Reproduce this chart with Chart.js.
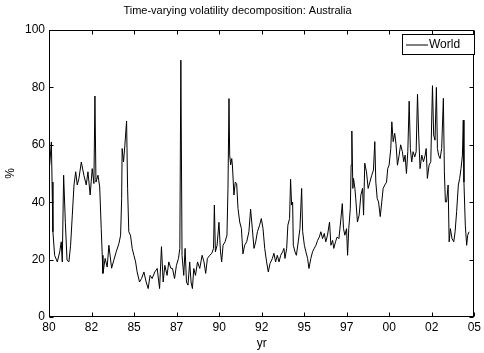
<!DOCTYPE html>
<html>
<head>
<meta charset="utf-8">
<script src="https://cdn.jsdelivr.net/npm/chart.js@4.4.0/dist/chart.umd.min.js"></script>
<style>
  html, body { margin: 0; padding: 0; background: #fff; }
</style>
</head>
<body>
<canvas id="volChart" width="484" height="353"></canvas>
<script>
// time (decimal years) and World volatility share (%)
const years = [
  1980.04, 1980.14, 1980.18, 1980.23, 1980.33, 1980.49, 1980.63, 1980.72, 1980.78, 1980.86,
  1980.96, 1981.06, 1981.17, 1981.27, 1981.37, 1981.47, 1981.57, 1981.66, 1981.76, 1981.90,
  1982.05, 1982.19, 1982.29, 1982.42, 1982.54, 1982.64, 1982.70, 1982.76, 1982.88, 1982.98,
  1983.07, 1983.13, 1983.17, 1983.30, 1983.42, 1983.52, 1983.68, 1983.81, 1983.95, 1984.11,
  1984.21, 1984.27, 1984.30, 1984.38, 1984.46, 1984.56, 1984.62, 1984.69, 1984.79, 1984.89,
  1984.99, 1985.09, 1985.18, 1985.32, 1985.44, 1985.58, 1985.71, 1985.83, 1985.94, 1986.06,
  1986.22, 1986.36, 1986.50, 1986.61, 1986.71, 1986.81, 1986.94, 1987.04, 1987.16, 1987.26,
  1987.38, 1987.49, 1987.61, 1987.69, 1987.75, 1987.82, 1987.92, 1988.00, 1988.08, 1988.17,
  1988.27, 1988.35, 1988.43, 1988.51, 1988.61, 1988.73, 1988.86, 1989.00, 1989.11, 1989.21,
  1989.31, 1989.45, 1989.57, 1989.67, 1989.72, 1989.78, 1989.88, 1989.99, 1990.08, 1990.15,
  1990.23, 1990.35, 1990.46, 1990.52, 1990.58, 1990.62, 1990.68, 1990.74, 1990.78, 1990.87,
  1990.95, 1991.03, 1991.11, 1991.21, 1991.31, 1991.40, 1991.50, 1991.62, 1991.75, 1991.85,
  1991.95, 1992.05, 1992.15, 1992.25, 1992.38, 1992.48, 1992.58, 1992.68, 1992.79, 1992.89,
  1992.99, 1993.13, 1993.22, 1993.32, 1993.42, 1993.52, 1993.62, 1993.73, 1993.81, 1993.87,
  1993.97, 1994.04, 1994.14, 1994.20, 1994.26, 1994.32, 1994.36, 1994.46, 1994.54, 1994.65,
  1994.75, 1994.85, 1994.91, 1995.01, 1995.10, 1995.20, 1995.28, 1995.39, 1995.49, 1995.59,
  1995.69, 1995.79, 1995.89, 1995.98, 1996.08, 1996.18, 1996.27, 1996.37, 1996.49, 1996.57,
  1996.67, 1996.74, 1996.84, 1996.94, 1997.04, 1997.14, 1997.24, 1997.31, 1997.39, 1997.49,
  1997.55, 1997.62, 1997.71, 1997.76, 1997.80, 1997.86, 1997.90, 1997.98, 1998.03, 1998.13,
  1998.23, 1998.33, 1998.43, 1998.49, 1998.56, 1998.66, 1998.76, 1998.86, 1998.97, 1999.07,
  1999.15, 1999.21, 1999.29, 1999.37, 1999.47, 1999.56, 1999.64, 1999.74, 1999.84, 1999.91,
  1999.99, 2000.09, 2000.15, 2000.23, 2000.32, 2000.40, 2000.48, 2000.58, 2000.67, 2000.77,
  2000.85, 2000.93, 2001.01, 2001.09, 2001.17, 2001.24, 2001.32, 2001.40, 2001.50, 2001.58,
  2001.66, 2001.73, 2001.81, 2001.91, 2002.01, 2002.11, 2002.17, 2002.24, 2002.34, 2002.44,
  2002.54, 2002.61, 2002.69, 2002.77, 2002.83, 2002.90, 2002.99, 2003.08, 2003.18, 2003.24,
  2003.30, 2003.37, 2003.46, 2003.52, 2003.59, 2003.69, 2003.79, 2003.87, 2003.96, 2004.06,
  2004.14, 2004.22, 2004.30, 2004.35, 2004.39, 2004.47, 2004.55, 2004.61, 2004.69
];
const world = [
  52.9, 61.0, 47.0, 29.7, 21.5, 19.2, 22.7, 26.2, 19.2, 49.4,
  33.0, 19.8, 19.2, 25.0, 35.5, 46.0, 50.6, 46.0, 48.3, 54.0,
  49.4, 46.0, 50.6, 42.5, 51.7, 46.5, 77.0, 47.0, 49.4, 45.3,
  30.8, 21.5, 15.2, 20.4, 17.4, 25.0, 17.0, 19.8, 22.7, 25.6,
  28.5, 41.3, 58.7, 54.0, 59.9, 68.3, 44.8, 29.7, 28.5, 23.9,
  21.5, 19.2, 15.7, 12.2, 13.4, 15.7, 12.2, 9.9, 14.5, 13.4,
  15.7, 16.9, 9.9, 24.5, 12.2, 18.0, 14.5, 19.2, 17.0, 16.9,
  13.4, 18.0, 20.4, 23.9, 89.5, 21.5, 14.5, 23.9, 12.2, 11.1,
  19.2, 12.2, 9.9, 16.9, 14.5, 19.2, 16.9, 21.5, 19.2, 15.2,
  20.4, 21.5, 22.2, 23.9, 39.0, 22.7, 25.0, 33.0, 22.7, 19.2,
  25.0, 26.2, 28.5, 44.8, 76.1, 56.4, 53.0, 55.2, 53.0, 42.5,
  47.0, 46.5, 37.8, 33.1, 30.8, 22.0, 25.0, 26.2, 29.7, 37.6,
  30.8, 23.9, 26.2, 29.7, 32.0, 34.3, 30.8, 23.9, 19.2, 15.7,
  18.6, 20.4, 22.2, 19.2, 21.5, 19.2, 21.5, 22.7, 23.9, 20.4,
  23.9, 32.0, 34.3, 48.0, 39.0, 40.0, 25.0, 22.7, 21.5, 26.2,
  30.8, 44.8, 29.7, 25.0, 22.7, 20.4, 16.9, 20.4, 22.7, 23.9,
  25.0, 26.7, 27.9, 29.7, 27.3, 29.1, 26.2, 28.5, 33.1, 25.0,
  26.7, 23.9, 26.2, 27.9, 27.3, 33.1, 39.5, 30.8, 28.5, 30.8,
  21.5, 30.8, 37.8, 53.0, 64.8, 44.8, 48.3, 44.8, 41.3, 33.1,
  35.5, 42.5, 44.8, 35.5, 53.6, 50.6, 44.8, 47.0, 49.4, 51.2,
  61.1, 47.0, 41.3, 40.1, 35.0, 40.1, 44.8, 46.0, 47.0, 51.7,
  52.9, 58.7, 68.0, 61.1, 64.0, 60.0, 52.9, 56.4, 60.0, 57.6,
  54.1, 56.4, 50.0, 57.6, 75.2, 58.7, 54.0, 57.6, 55.8, 57.6,
  77.6, 63.4, 51.7, 56.4, 54.1, 56.4, 58.7, 48.3, 52.9, 54.1,
  80.6, 63.4, 61.6, 80.0, 58.7, 56.4, 55.2, 58.7, 76.2, 50.6,
  40.1, 40.1, 46.0, 26.2, 30.8, 27.3, 26.2, 29.7, 36.7, 46.0,
  48.3, 51.8, 56.4, 68.6, 47.0, 32.0, 25.0, 28.5, 29.7
];

const xTickValues = [1980, 1982.5, 1985, 1987.5, 1990, 1992.5, 1995, 1997.5, 2000, 2002.5, 2005];
const xTickLabels = ['80', '82', '85', '87', '90', '92', '95', '97', '00', '02', '05'];
const yTickValues = [0, 20, 40, 60, 80, 100];

const FONT = '"Liberation Sans", Arial, Helvetica, sans-serif';

// MATLAB style box, inward ticks and legend
const matlabBox = {
  id: 'matlabBox',
  afterDraw(chart) {
    const ctx = chart.ctx;
    const a = chart.chartArea;
    const xs = chart.scales.x, ys = chart.scales.y;
    const L = Math.round(a.left) + 0.5, R = Math.round(a.right) - 0.5;
    const T = Math.round(a.top) + 0.5, B = Math.round(a.bottom) - 0.5;
    ctx.save();
    ctx.strokeStyle = '#000';
    ctx.lineWidth = 1;
    ctx.strokeRect(L, T, R - L, B - T);
    ctx.beginPath();
    xTickValues.forEach(v => {
      const px = Math.round(xs.getPixelForValue(v)) + 0.5;
      ctx.moveTo(px, B); ctx.lineTo(px, B - 4);
      ctx.moveTo(px, T); ctx.lineTo(px, T + 4);
    });
    yTickValues.forEach(v => {
      const py = Math.round(ys.getPixelForValue(v)) + 0.5;
      ctx.moveTo(L, py); ctx.lineTo(L + 4, py);
      ctx.moveTo(R, py); ctx.lineTo(R - 4, py);
    });
    ctx.stroke();

    // legend
    const lx = 402.5, ly = 34.5, lw = 72, lh = 20;
    ctx.fillStyle = '#fff';
    ctx.fillRect(lx, ly, lw, lh);
    ctx.strokeRect(lx, ly, lw, lh);
    ctx.beginPath();
    ctx.moveTo(406, 45); ctx.lineTo(428, 45);
    ctx.stroke();
    ctx.fillStyle = '#000';
    ctx.font = '12px ' + FONT;
    ctx.textBaseline = 'middle';
    ctx.textAlign = 'left';
    ctx.fillText(chart.data.datasets[0].label, 429, 45);
    ctx.restore();
  }
};

new Chart(document.getElementById('volChart'), {
  type: 'line',
  data: {
    datasets: [{
      label: 'World',
      data: years.map((t, i) => ({ x: t, y: world[i] })),
      borderColor: '#000',
      borderWidth: 1,
      pointRadius: 0,
      tension: 0,
      fill: false
    }]
  },
  options: {
    responsive: false,
    animation: false,
    layout: { padding: { top: 0, right: 9, left: 0, bottom: 0 } },
    plugins: {
      legend: { display: false },
      tooltip: { enabled: false },
      title: {
        display: true,
        text: 'Time-varying volatility decomposition: Australia',
        color: '#000',
        font: { family: FONT, size: 11, weight: 'normal' },
        padding: { top: 4, bottom: 12.8 }
      }
    },
    scales: {
      x: {
        type: 'linear',
        min: 1980,
        max: 2005,
        afterFit: s => { s.height = 36; },
        afterBuildTicks: s => { s.ticks = xTickValues.map(v => ({ value: v })); },
        grid: { display: false, drawTicks: false },
        border: { display: false },
        ticks: {
          color: '#000',
          padding: 3,
          maxRotation: 0,
          autoSkip: false,
          font: { family: FONT, size: 12 },
          callback: (v, i) => xTickLabels[i]
        },
        title: {
          display: true,
          text: 'yr',
          color: '#000',
          font: { family: FONT, size: 12 },
          padding: { top: 0, bottom: 2 }
        }
      },
      y: {
        min: 0,
        max: 100,
        afterFit: s => { s.width = 49; },
        afterBuildTicks: s => { s.ticks = yTickValues.map(v => ({ value: v })); },
        grid: { display: false, drawTicks: false },
        border: { display: false },
        ticks: {
          color: '#000',
          padding: 4,
          font: { family: FONT, size: 12 }
        },
        title: {
          display: true,
          text: '%',
          color: '#000',
          font: { family: FONT, size: 12 },
          padding: { top: 3, bottom: 0 }
        }
      }
    }
  },
  plugins: [matlabBox]
});
</script>
</body>
</html>
